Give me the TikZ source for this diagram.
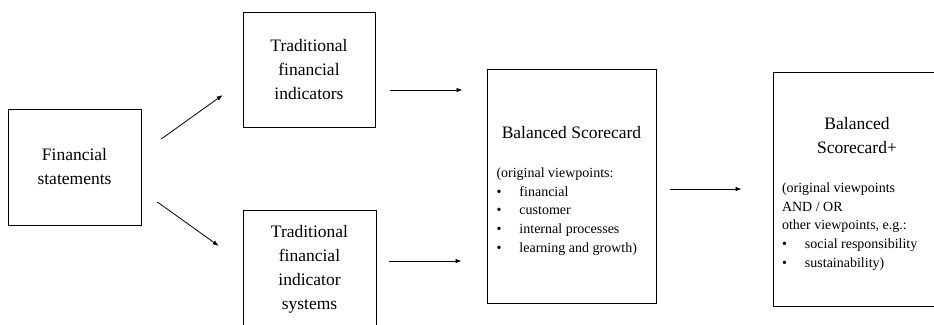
\documentclass[tikz,border=0pt]{standalone}
\usepackage{fontspec}
\setmainfont{Liberation Serif}
\usetikzlibrary{arrows.meta}

\newcommand{\headfont}{\fontsize{17.5}{24}\selectfont}
\newcommand{\listfont}{\fontsize{14}{18.7}\selectfont\spaceskip=0pt\xspaceskip=0pt}
\newcommand{\bitem}[1]{\makebox[23pt][l]{\textbullet}#1\par}

\tikzstyle{box} = [draw, line width=0.9pt, align=center, font=\headfont, inner sep=0pt]
\tikzstyle{card} = [box, text width=150pt, align=flush left, inner xsep=9pt, minimum height=234pt]
\tikzstyle{flow} = [-{Latex[length=6pt,width=4.5pt]}, line width=0.8pt]

\begin{document}
\begin{tikzpicture}[x=1pt, y=-1pt]
\useasboundingbox (0,0) rectangle (934,324);

\node[box, minimum width=133pt, minimum height=116pt] (fs) at (74.5,167) {Financial\\statements};
\node[box, minimum width=132pt, minimum height=115pt] (tfi) at (309,69.5) {Traditional\\financial\\indicators};
\node[box, minimum width=133pt, minimum height=118pt] (tfis) at (309.5,269) {Traditional\\financial\\indicator\\systems};
\node[card, minimum width=169pt] (bsc) at (571.5,186) {
	{\centering Balanced Scorecard\par}
	\vspace{20pt}
	{\listfont (original viewpoints:\par
	\bitem{financial}
	\bitem{customer}
	\bitem{internal processes}
	\bitem{learning and growth)}}
	\vskip-10pt\hrule height0pt width0pt
};
\node[card, minimum width=166pt] (bscp) at (857,189) {
	{\centering Balanced\\Scorecard+\par}
	\vspace{20pt}
	{\listfont (original viewpoints\par
	AND / OR\par
	other viewpoints, e.g.:\par
	\bitem{social responsibility}
	\bitem{sustainability)}}
	\vskip-10pt\hrule height0pt width0pt
};

\draw[flow, shorten <=24.5pt, shorten >=24.5pt] ([yshift=13.8pt]fs.east) -- ([yshift=-11.3pt]tfi.west);
\draw[flow, shorten <=19.6pt, shorten >=29.4pt] ([yshift=-23.6pt]fs.east) -- ([yshift=6pt]tfis.west);
\draw[flow, shorten <=15pt, shorten >=24pt] ([yshift=-20.5pt]tfi.east) -- ([yshift=-20.5pt]tfi.east -| bsc.west);
\draw[flow, shorten <=13pt, shorten >=25pt] ([yshift=8pt]tfis.east) -- ([yshift=8pt]tfis.east -| bsc.west);
\draw[flow, shorten <=14pt, shorten >=31pt] (bsc.east |- bscp.west) -- (bscp.west);
\end{tikzpicture}
\end{document}
